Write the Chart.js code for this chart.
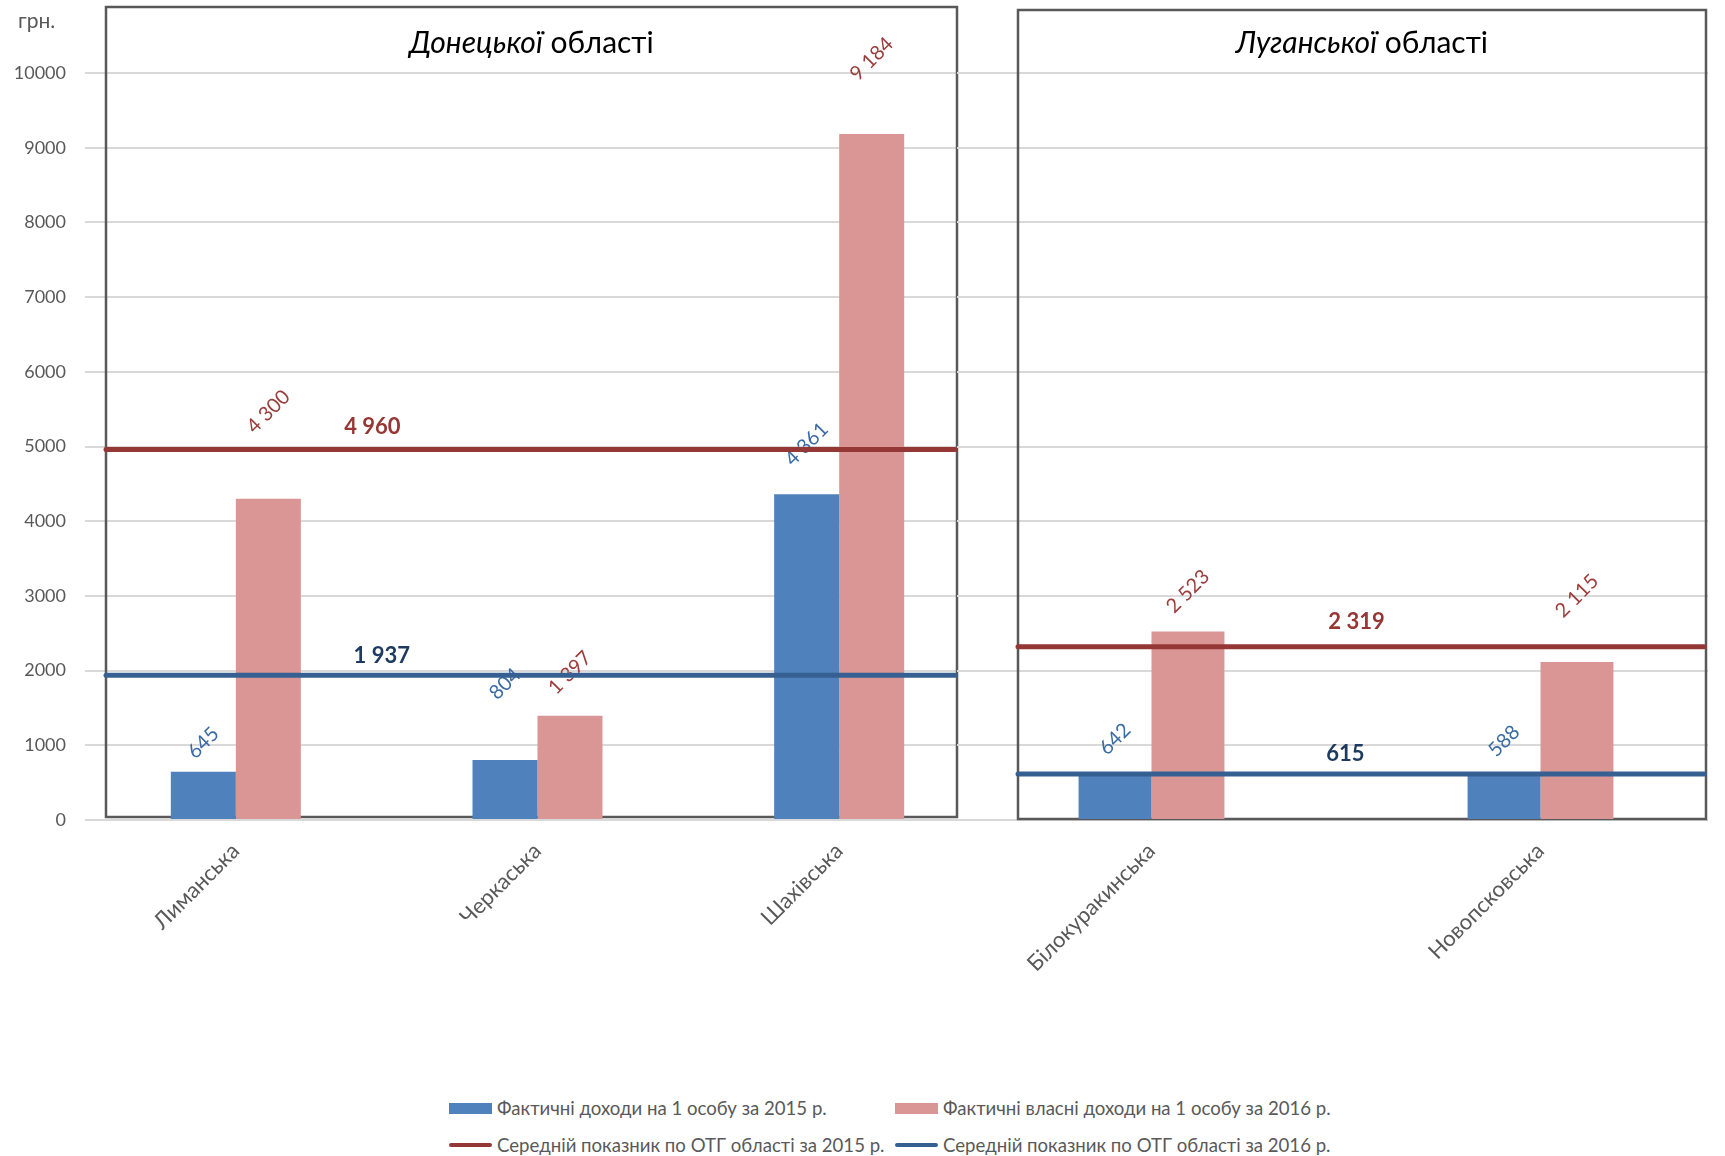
<!DOCTYPE html>
<html>
<head>
<meta charset="utf-8">
<script src="https://cdn.jsdelivr.net/npm/chart.js@4/dist/chart.umd.min.js"></script>
<style>
html,body{margin:0;padding:0;width:1725px;height:1156px;overflow:hidden;background:#fff;font-family:Lato,sans-serif;}
#wrap{position:relative;width:1725px;height:1156px;}
#leftBox{position:absolute;left:0;top:0;width:1000px;height:1000px;}
#rightClip{position:absolute;left:957px;top:0;width:751px;height:1000px;overflow:hidden;}
#rightBox{position:absolute;left:0;top:0;width:778px;height:1000px;}
.lg{position:absolute;display:flex;align-items:center;color:#595959;font-family:Lato,sans-serif;font-size:18.6px;white-space:nowrap;}
.sw{width:43px;margin-right:5px;}
</style>
</head>
<body>
<div id="wrap">
  <div id="leftBox"><canvas id="cL" width="1000" height="1000"></canvas></div>
  <div id="rightClip"><div id="rightBox"><canvas id="cR" width="778" height="1000"></canvas></div></div>
  <div id="legend"></div>
</div>
<script>
// ---------- DATA ----------
const categoriesDonetsk = ['Лиманська', 'Черкаська', 'Шахівська'];
const categoriesLuhansk = ['Білокуракинська', 'Новопсковська'];
const income2015Donetsk = [645, 804, 4361];
const income2016Donetsk = [4300, 1397, 9184];
const income2015Luhansk = [642, 588];
const income2016Luhansk = [2523, 2115];
const avgDonetsk = [4960, 1937];   // 2015, 2016
const avgLuhansk = [2319, 615];    // 2015, 2016
const regionNames = ['Донецької', 'Луганської'];
const regionSuffix = ' області';
const seriesLabels = [
  'Фактичні доходи на 1 особу за 2015 р.',
  'Фактичні власні доходи на 1 особу за 2016 р.',
  'Середній показник по ОТГ області за 2015 р.',
  'Середній показник по ОТГ області за 2016 р.'
];
const unitLabel = 'грн.';
const yMin = 0, yMax = 10000, yStep = 1000;

// ---------- STYLE ----------
const BLUE = '#4F81BD', PINK = '#D99694';
const LINE_RED = '#953735', LINE_BLUE = '#376092';
const LBL_BLUE = '#3B6BA5', LBL_RED = '#9B3D3B';
const AVG_LBL_COLORS = ['#953735', '#1F3A60'];
const GRID = '#D9D9D9', TXT = '#595959';

function fmt(v){ return String(v).replace(/\B(?=(\d{3})+(?!\d))/g, ' '); }

function panelPlugin(cfg){
  function frame(chart){
    const a = chart.chartArea, y0 = chart.scales.y.getPixelForValue(0);
    return {l: a.left + cfg.insetL, r: a.right - cfg.insetR, t: cfg.top, b: y0 - cfg.bottomGap};
  }
  return {
    id: 'panel_' + cfg.name,
    beforeDatasetsDraw(chart){
      const ctx = chart.ctx, f = frame(chart);
      ctx.save();
      ctx.strokeStyle = '#595959'; ctx.lineWidth = 2.5;
      ctx.strokeRect(f.l, f.t, f.r - f.l, f.b - f.t);
      ctx.restore();
    },
    afterDatasetsDraw(chart){
      const ctx = chart.ctx, f = frame(chart), ys = chart.scales.y;
      // data labels
      chart.data.datasets.forEach((ds, di) => {
        const meta = chart.getDatasetMeta(di);
        meta.data.forEach((bar, i) => {
          ctx.save();
          ctx.translate(bar.x, bar.y - cfg.lift[di][i]);
          ctx.rotate(-Math.PI / 4);
          ctx.fillStyle = di === 0 ? LBL_BLUE : LBL_RED;
          ctx.font = '20px Lato';
          ctx.textAlign = 'center'; ctx.textBaseline = 'middle';
          ctx.fillText(fmt(ds.data[i]), 0, 0);
          ctx.restore();
        });
      });
      // average lines
      cfg.avg.forEach((v, k) => {
        const y = ys.getPixelForValue(v);
        ctx.save();
        ctx.strokeStyle = k === 0 ? LINE_RED : LINE_BLUE;
        ctx.lineWidth = 5; ctx.lineCap = 'round';
        ctx.beginPath(); ctx.moveTo(f.l, y); ctx.lineTo(f.r - 2, y); ctx.stroke();
        ctx.fillStyle = AVG_LBL_COLORS[k];
        ctx.font = 'bold 22px Lato';
        ctx.textAlign = 'center'; ctx.textBaseline = 'middle';
        ctx.fillText(fmt(v), f.l + cfg.avgLabelFrac[k] * (f.r - f.l), y - cfg.avgLabelLift[k]);
        ctx.restore();
      });
      // title
      ctx.save();
      ctx.fillStyle = '#000';
      ctx.textBaseline = 'middle'; ctx.textAlign = 'left';
      ctx.font = 'italic 30px Lato';
      const w1 = ctx.measureText(cfg.title).width;
      ctx.font = '30px Lato';
      const w2 = ctx.measureText(regionSuffix).width;
      const cx = (f.l + f.r) / 2, sx = cx - (w1 + w2) / 2;
      ctx.font = 'italic 30px Lato';
      ctx.fillText(cfg.title, sx, cfg.titleY);
      ctx.font = '30px Lato';
      ctx.fillText(regionSuffix, sx + w1, cfg.titleY);
      ctx.restore();
      if (cfg.unit){
        ctx.save();
        ctx.fillStyle = TXT; ctx.font = '21px Lato';
        ctx.textAlign = 'left'; ctx.textBaseline = 'middle';
        ctx.fillText(cfg.unit, 18, 21);
        ctx.restore();
      }
    }
  };
}

function makeChart(canvasId, cats, d2015, d2016, pct, showY, panelCfg, padRight){
  return new Chart(document.getElementById(canvasId), {
    type: 'bar',
    data: {
      labels: cats,
      datasets: [
        {label: seriesLabels[0], data: d2015, backgroundColor: BLUE, borderWidth: 0},
        {label: seriesLabels[1], data: d2016, backgroundColor: PINK, borderWidth: 0}
      ]
    },
    options: {
      responsive: false, animation: false,
      layout: {padding: {top: 73, right: padRight, left: 0, bottom: 0}},
      datasets: {bar: {categoryPercentage: pct, barPercentage: 1}},
      plugins: {legend: {display: false}, tooltip: {enabled: false}},
      scales: {
        x: {
          grid: {display: false}, border: {display: false},
          ticks: {maxRotation: 45, minRotation: 45, color: TXT, font: {family: 'Lato', size: 22}, padding: 10, autoSkip: false},
          afterFit(s){ s.height = 180; }
        },
        y: {
          min: yMin, max: yMax,
          ticks: {stepSize: yStep, color: TXT, font: {family: 'Lato', size: 18}, padding: 19, display: showY,
                  callback: (v) => String(v)},
          grid: {color: GRID, lineWidth: 2, drawTicks: false},
          border: {display: false},
          afterFit(s){ s.width = showY ? 85 : 0; }
        }
      }
    },
    plugins: [panelPlugin(panelCfg)]
  });
}

makeChart('cL', categoriesDonetsk, income2015Donetsk, income2016Donetsk, 0.431, true, {
  name: 'L', insetL: 21, insetR: 33, top: 7, bottomGap: 3,
  lift: [[29, 76, 50], [87, 43, 75]],
  avg: avgDonetsk, avgLabelFrac: [0.313, 0.324], avgLabelLift: [23, 19],
  title: regionNames[0], titleY: 43, unit: unitLabel
}, 10);

makeChart('cR', categoriesLuhansk, income2015Luhansk, income2016Luhansk, 0.375, false, {
  name: 'R', insetL: 61, insetR: 29, top: 10, bottomGap: 1,
  lift: [[33, 35], [40, 66]],
  avg: avgLuhansk, avgLabelFrac: [0.492, 0.476], avgLabelLift: [25, 20],
  title: regionNames[1], titleY: 43, unit: null
}, 0);

// ---------- LEGEND (HTML) ----------
const legendItems = [
  {kind: 'box', color: BLUE, x: 449, y: 1108},
  {kind: 'box', color: PINK, x: 895, y: 1108},
  {kind: 'line', color: LINE_RED, x: 449, y: 1145},
  {kind: 'line', color: LINE_BLUE, x: 895, y: 1145}
];
const lg = document.getElementById('legend');
legendItems.forEach((it, i) => {
  const d = document.createElement('div');
  d.className = 'lg';
  d.style.left = it.x + 'px';
  d.style.top = (it.y - 12) + 'px';
  d.style.height = '24px';
  const sw = document.createElement('span');
  sw.className = 'sw';
  sw.style.background = it.color;
  sw.style.height = it.kind === 'box' ? '11px' : '4px';
  if (it.kind === 'line') sw.style.borderRadius = '2px';
  const t = document.createElement('span');
  t.textContent = seriesLabels[i];
  d.appendChild(sw); d.appendChild(t);
  lg.appendChild(d);
});
</script>
</body>
</html>
